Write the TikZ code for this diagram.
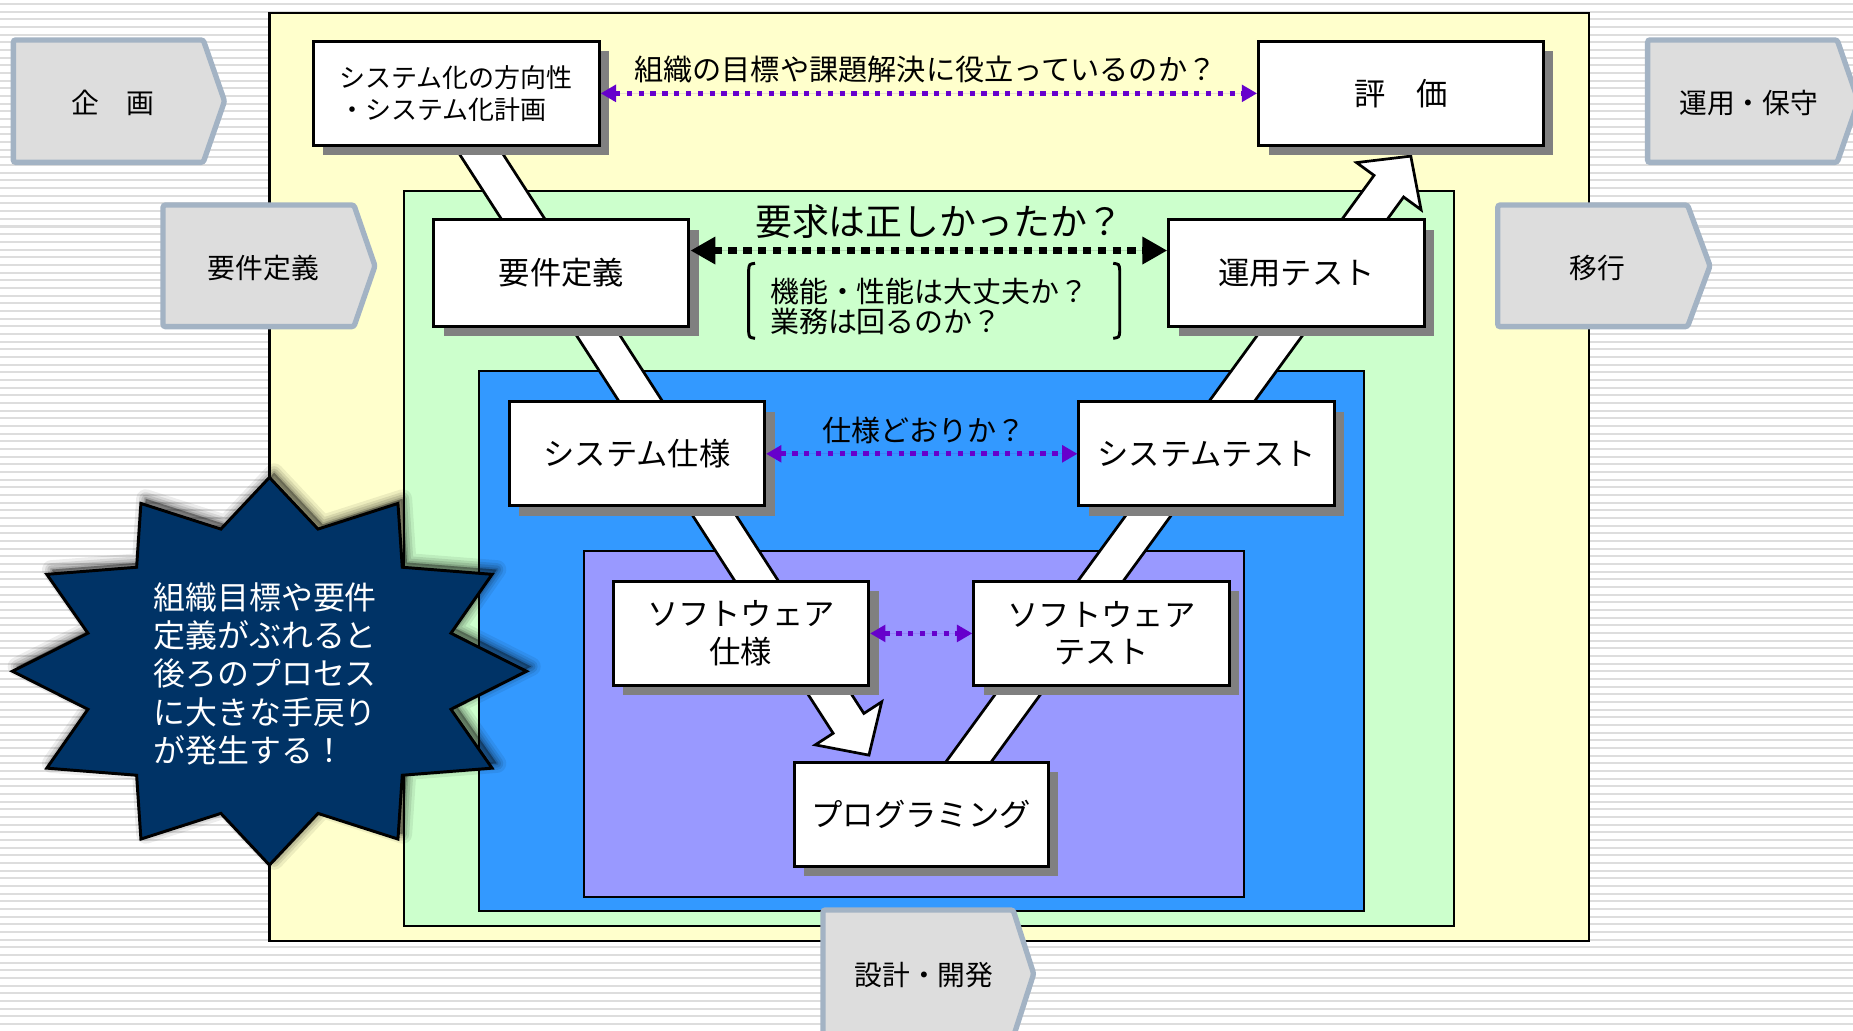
\documentclass[tikz,border=0pt]{standalone}
\usepackage{fontspec}
\setmainfont{Noto Sans CJK JP}
\usetikzlibrary{arrows.meta,shadows}
\definecolor{cyellow}{HTML}{FFFFCC}
\definecolor{cgreen}{HTML}{CCFFCC}
\definecolor{cblue}{HTML}{3399FF}
\definecolor{cviolet}{HTML}{9999FF}
\definecolor{cnavy}{HTML}{003366}
\definecolor{cpurp}{HTML}{6600CC}
\definecolor{cpfill}{HTML}{DDDDDD}
\definecolor{cpbord}{HTML}{A3B3C4}
\definecolor{cstripe}{HTML}{DDDDDD}
\definecolor{cshadow}{HTML}{808080}
\newcommand{\fsz}[2]{\fontsize{#1}{#2}\selectfont}
\begin{document}
\begin{tikzpicture}[x=1pt,y=-1pt,
  cont/.style={draw=black,line width=1.8pt},
  band/.style={draw=black,fill=white,line width=2.3pt,line join=miter},
  wbox/.style={draw=black,fill=white,line width=2.5pt,inner sep=0pt,
    minimum width=216pt,minimum height=88pt,align=center,font={\fsz{26.5}{31.7}},
    drop shadow={shadow xshift=8.5pt,shadow yshift=-8.5pt,fill=cshadow,opacity=1}},
  pdot/.style={draw=cpurp,line width=4pt,dash pattern=on 4.5pt off 5.5pt,
    arrows={Triangle[length=13pt,width=14pt]-Triangle[length=13pt,width=14pt]},fill=cpurp},
  bdot/.style={draw=black,line width=6.5pt,dash pattern=on 7pt off 5.5pt,
    arrows={Triangle[length=21pt,width=22pt]-Triangle[length=21pt,width=22pt]},fill=black},
  penta/.style={draw=cpbord,fill=cpfill,line width=4.5pt,rounded corners=2pt},
  ptext/.style={inner sep=0pt,font={\fsz{23.5}{28}}},
  lbl/.style={inner sep=0pt},
  brk/.style={draw=black,line width=2.5pt},
  starp/.style={insert path={(445.5,568) -- (381.6,535.8) -- (416.4,486) -- (340.4,480) -- (336.75,426) -- (269.1,447.7) -- (228,404) -- (186.9,447.7) -- (119.25,426) -- (115.6,480) -- (39.6,486) -- (74.4,535.8) -- (10.5,568) -- (74.4,600.2) -- (39.6,650) -- (115.6,656) -- (119.25,710) -- (186.9,688.3) -- (228,732) -- (269.1,688.3) -- (336.75,710) -- (340.4,656) -- (416.4,650) -- (381.6,600.2) -- cycle}}
]
\useasboundingbox (0,0) rectangle (1568,872);
\fill[white] (0,0) rectangle (1568,872);
\foreach \k in {0,...,134} \fill[cstripe] (0,{2.6+\k*6.49}) rectangle (1568,{4.3+\k*6.49});

% nested containers
\draw[cont,fill=cyellow] (228,11) rectangle (1344.5,796);
\draw[cont,fill=cgreen] (342,161.6) rectangle (1230.3,783.3);
\draw[cont,fill=cblue] (405,314) rectangle (1154.2,770.6);
\draw[cont,fill=cviolet] (494,466) rectangle (1052.4,759);

% V-shaped block arrows
\draw[band] (374.6,108.4) -- (705,620.5) -- (689.9,630.3) -- (735.3,639) -- (746.1,593.9) -- (731,603.7) -- (400.6,91.6) -- cycle;
\draw[band] (774,680.9) -- (1162.7,148.4) -- (1147.9,137.6) -- (1193.8,132.1) -- (1202.5,177.5) -- (1187.7,166.7) -- (799,699.2) -- cycle;

% boxes
\node[wbox,minimum width=242pt,align=left,font={\fsz{22}{26.8}}] (b1) at (386,79) {システム化の方向性\\・システム化計画};
\node[wbox,minimum width=241pt] (b2) at (1185.5,79) {評　価};
\node[wbox,minimum height=90pt] (b3) at (475,231) {要件定義};
\node[wbox,minimum height=90pt] (b4) at (1097,231) {運用テスト};
\node[wbox] (b5) at (539,384) {システム仕様};
\node[wbox] (b6) at (1021,384) {システムテスト};
\node[wbox] (b7) at (627,536) {ソフトウェア\\仕様};
\node[wbox] (b8) at (932,536) {ソフトウェア\\テスト};
\node[wbox,minimum width=215pt] (b9) at (779.5,689) {プログラミング};

% dotted double arrows
\draw[pdot] (b1.east) -- (b2.west);
\draw[bdot] ([yshift=19pt]b3.east) -- ([yshift=19pt]b4.west);
\draw[pdot] (b5.east) -- (b6.west);
\draw[pdot] (b7.east) -- (b8.west);

% labels
\node[lbl,font={\fsz{24.7}{28}}] (l1) at (783,59) {組織の目標や課題解決に役立っているのか？};
\node[lbl,font={\fsz{31.2}{36}}] (l2) at (795,187.5) {要求は正しかったか？};
\node[lbl,align=left,font={\fsz{24.5}{25.5}}] (l3) at (786.4,259.5) {機能・性能は大丈夫か？\\業務は回るのか？};
\node[lbl,font={\fsz{24.6}{28}}] (l4) at (782,364) {仕様どおりか？};
\draw[brk] (638.9,222.8) .. controls (634,223.5) .. (633.5,228.5) -- (633.5,280.7) .. controls (634,285.5) .. (638.9,286.3);
\draw[brk] (942,222.8) .. controls (947,223.5) .. (947.5,228.5) -- (947.5,280.7) .. controls (947,285.5) .. (942,286.3);

% phase chevrons
\draw[penta] (11.3,33.8) -- (172,33.8) -- (190,85.6) -- (172,137.4) -- (11.3,137.4) -- cycle;
\draw[penta] (138,173.5) -- (299.5,173.5) -- (317.3,225) -- (299.5,276.4) -- (138,276.4) -- cycle;
\draw[penta] (1394.2,33.8) -- (1554.6,33.8) -- (1572.6,85.6) -- (1554.6,137.4) -- (1394.2,137.4) -- cycle;
\draw[penta] (1267.4,173.5) -- (1428,173.5) -- (1447,225) -- (1428,276.4) -- (1267.4,276.4) -- cycle;
\draw[penta] (696.4,770) -- (857.3,770) -- (874.7,824) -- (857.3,878) -- (696.4,878) -- cycle;
\node[ptext] (p1) at (95.4,87) {企　画};
\node[ptext] (p2) at (223,227) {要件定義};
\node[ptext] (p3) at (1479.7,87) {運用・保守};
\node[ptext] (p4) at (1352,227) {移行};
\node[ptext] (p5) at (781.8,825) {設計・開発};

% starburst with soft shadow
\foreach \w/\o in {16/0.07,11/0.09,7/0.11,3/0.14}
  \path[draw=black,line width=\w pt,draw opacity=\o,fill=black,fill opacity=\o,line join=round] [shift={(4,-4)}] [starp];
\path[fill=cnavy,draw=black,line width=2.5pt,line join=miter] [starp];
\node[lbl,align=left,text=white,font={\fsz{27}{32.5}}] (st) at (224.4,570.2) {組織目標や要件\\定義がぶれると\\後ろのプロセス\\に大きな手戻り\\が発生する！};
\end{tikzpicture}
\end{document}
